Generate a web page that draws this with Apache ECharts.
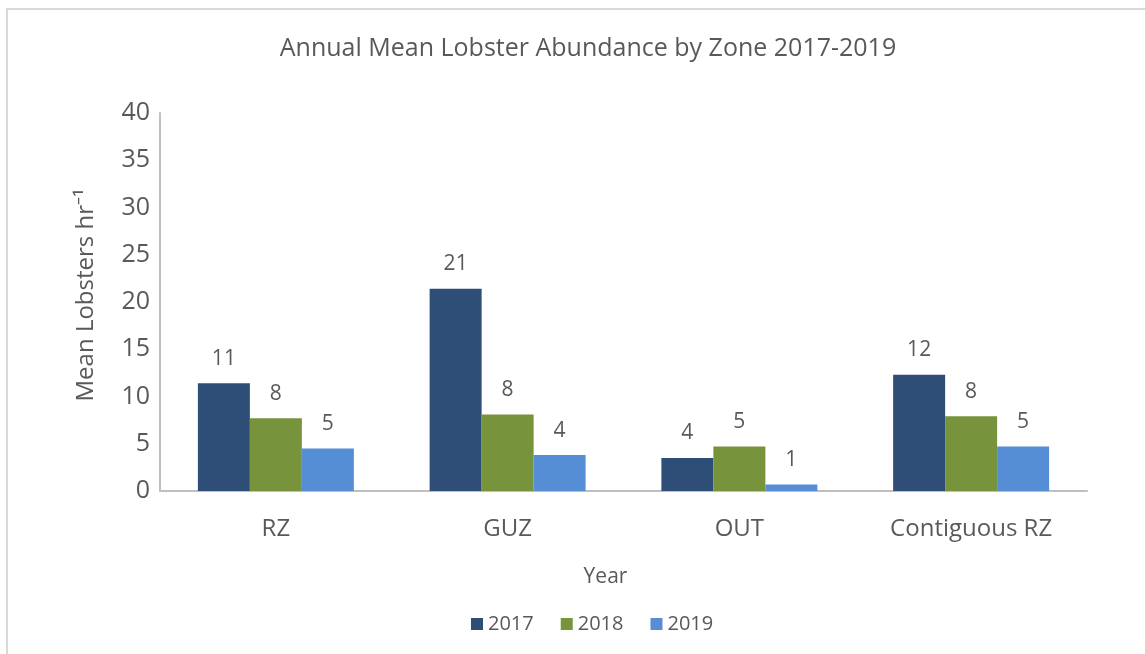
<!DOCTYPE html>
<html>
<head>
<meta charset="utf-8">
<script src="https://cdn.jsdelivr.net/npm/echarts@6/dist/echarts.min.js"></script>
<style>
  html, body { margin: 0; padding: 0; background: #fff; }
  #chart { width: 1145px; height: 654px; }
</style>
</head>
<body>
<div id="chart"></div>
<script>
const zones = ['RZ', 'GUZ', 'OUT', 'Contiguous RZ']
const years = ['2017', '2018', '2019']
const values2017 = [11.4, 21.4, 3.5, 12.3]
const values2018 = [7.7, 8.1, 4.7, 7.9]
const values2019 = [4.5, 3.8, 0.7, 4.7]
const colors = ['#2e4e78', '#77933c', '#558ed5']

const font = '"Open Sans", "Noto Sans", sans-serif'
const textColor = '#595959'

const chart = echarts.init(document.getElementById('chart'))

const seriesData = [values2017, values2018, values2019]

chart.setOption({
  animation: false,
  textStyle: { fontFamily: font, color: textColor },
  graphic: [{
    // outer chart frame (top and left edges visible in the picture)
    type: 'polyline',
    shape: { points: [[7, 660], [7, 9], [1150, 9]] },
    style: { stroke: '#d9d9d9', lineWidth: 2, fill: null }
  }],
  title: {
    text: 'Annual Mean Lobster Abundance by Zone 2017-2019',
    left: 583,
    top: 31,
    textAlign: 'center',
    textStyle: { fontFamily: font, fontSize: 25, fontWeight: 'normal', color: textColor }
  },
  legend: {
    data: years,
    left: 466,
    top: 609,
    itemWidth: 12,
    itemHeight: 12,
    itemGap: 27,
    icon: 'rect',
    textStyle: { fontFamily: font, fontSize: 20, color: textColor }
  },
  grid: {
    left: 160,
    right: 58,
    top: 113,
    bottom: 163
  },
  xAxis: {
    type: 'category',
    data: zones,
    name: 'Year',
    nameLocation: 'middle',
    nameGap: 76,
    nameTextStyle: { fontFamily: font, fontSize: 21, color: textColor, padding: [0, 36, 0, 0] },
    axisLine: { lineStyle: { color: '#bfbfbf', width: 2 } },
    axisTick: { show: false },
    axisLabel: { fontFamily: font, fontSize: 24, color: textColor, margin: 26 }
  },
  yAxis: {
    type: 'value',
    min: 0,
    max: 40,
    interval: 5,
    name: 'Mean Lobsters hr\u207B\u00B9',
    nameLocation: 'middle',
    nameGap: 62,
    nameRotate: 90,
    nameTextStyle: { fontFamily: font, fontSize: 24, color: textColor, padding: [0, 0, 0, 14] },
    axisLine: { show: true, lineStyle: { color: '#bfbfbf', width: 2 } },
    axisTick: { show: false },
    splitLine: { show: false },
    axisLabel: { fontFamily: font, fontSize: 25, color: textColor, margin: 10 }
  },
  series: years.map((y, i) => ({
    name: y,
    type: 'bar',
    data: seriesData[i],
    barWidth: 52,
    barGap: '0%',
    itemStyle: { color: colors[i] },
    label: {
      show: true,
      position: 'top',
      distance: 14,
      fontFamily: font,
      fontSize: 21,
      color: textColor,
      formatter: p => Math.round(p.value)
    }
  }))
})
</script>
</body>
</html>
